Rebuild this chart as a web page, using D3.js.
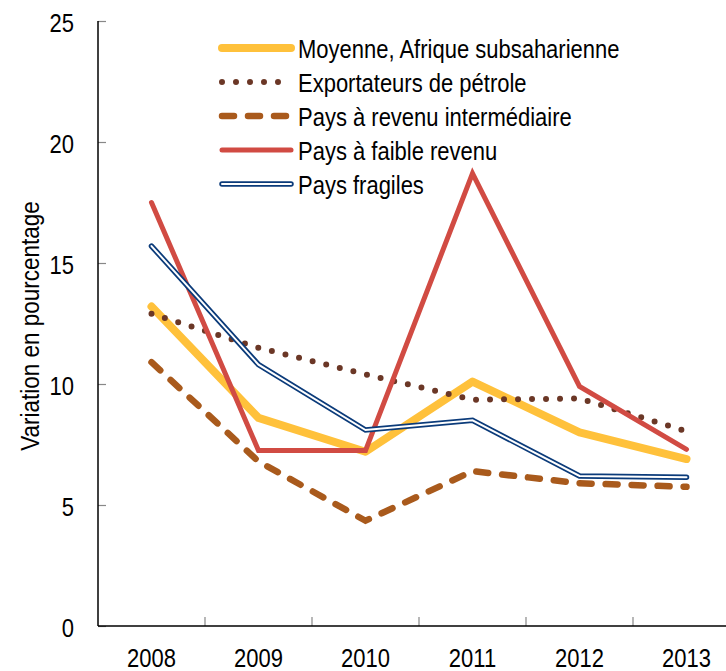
<!DOCTYPE html>
<html>
<head>
<meta charset="utf-8">
<script src="https://cdn.jsdelivr.net/npm/d3@7"></script>
<style>
  body { margin: 0; background: #fff; }
  svg { display: block; font-family: "Liberation Sans", Arial, sans-serif; }
</style>
</head>
<body>
<div id="chart"></div>
<script>
// data
var years = ['2008', '2009', '2010', '2011', '2012', '2013'];
var moyenne = [13.2, 8.6, 7.2, 10.1, 8.0, 6.9];
var exportateurs = [12.9, 11.5, 10.4, 9.35, 9.4, 8.05];
var intermediaire = [10.9, 6.8, 4.35, 6.4, 5.9, 5.75];
var faible = [17.5, 7.25, 7.25, 18.7, 9.9, 7.3];
var fragiles = [15.7, 10.8, 8.1, 8.5, 6.2, 6.15];
var yTicks = [0, 5, 10, 15, 20, 25];

var series = [
    { name: 'Moyenne, Afrique subsaharienne', values: moyenne, type: 'thick' },
    { name: 'Exportateurs de pétrole', values: exportateurs, type: 'dots' },
    { name: 'Pays à revenu intermédiaire', values: intermediaire, type: 'dash' },
    { name: 'Pays à faible revenu', values: faible, type: 'solid' },
    { name: 'Pays fragiles', values: fragiles, type: 'double' }
];

// the original text is a bit taller than wide, so stretch it vertically
var stretch = 1.18;

function init() {
    var width = 726, height = 671;
    // plot box; the right edge runs past the window like in the original
    var pLeft = 98, pTop = 21, pBottom = 626, pRight = 740;

    var svg = d3.select('#chart').append('svg')
        .attr('width', width)
        .attr('height', height);

    var x = d3.scaleBand().domain(years).range([pLeft, pRight]);
    var y = d3.scaleLinear().domain([0, 25]).range([pBottom, pTop]);

    var line = d3.line()
        .x(function(d, i) { return x(years[i]) + x.bandwidth() / 2; })
        .y(function(d) { return y(d); });

    // axes
    var yAxis = svg.append('g')
        .attr('transform', 'translate(' + pLeft + ',0)')
        .call(d3.axisRight(y).tickValues(yTicks).tickSize(8).tickFormat(''));
    yAxis.select('.domain').remove();
    yAxis.selectAll('line').attr('stroke', '#888').attr('stroke-width', 1.2);

    svg.selectAll('.ylab')
        .data(yTicks)
        .enter().append('g')
        .attr('class', 'ylab')
        .attr('transform', function(d) { return 'translate(74,' + (y(d) + 1.5) + ') scale(1,' + stretch + ')'; })
        .append('text')
        .attr('dy', '0.36em')
        .attr('text-anchor', 'end')
        .style('font-size', '22px')
        .text(function(d) { return d; });

    // x tick marks sit on the band edges
    svg.selectAll('.xtick')
        .data(years.slice(1))
        .enter().append('line')
        .attr('x1', function(d) { return x(d); })
        .attr('x2', function(d) { return x(d); })
        .attr('y1', pBottom)
        .attr('y2', pBottom - 9)
        .attr('stroke', '#888')
        .attr('stroke-width', 1.2);

    svg.selectAll('.xlab')
        .data(years)
        .enter().append('g')
        .attr('class', 'xlab')
        .attr('transform', function(d) { return 'translate(' + (x(d) + x.bandwidth() / 2) + ',667) scale(1,' + stretch + ')'; })
        .append('text')
        .attr('text-anchor', 'middle')
        .style('font-size', '22px')
        .text(function(d) { return d; });

    svg.append('line')
        .attr('x1', pLeft).attr('x2', pLeft)
        .attr('y1', pTop).attr('y2', pBottom)
        .attr('stroke', '#000').attr('stroke-width', 1.5);
    svg.append('line')
        .attr('x1', pLeft).attr('x2', pRight)
        .attr('y1', pBottom).attr('y2', pBottom)
        .attr('stroke', '#000').attr('stroke-width', 1.5);

    svg.append('text')
        .attr('transform', 'translate(39,326) rotate(-90) scale(1,1.12)')
        .attr('text-anchor', 'middle')
        .style('font-size', '22.5px')
        .text('Variation en pourcentage');

    var plot = svg.append('g');
    series.forEach(function(s) {
        drawPath(plot, line(s.values), s.type);
    });

    // legend
    var legend = svg.append('g');
    series.forEach(function(s, i) {
        var ly = 48 + i * 34;
        var g = legend.append('g');
        drawPath(g, 'M222,' + ly + 'L291,' + ly, s.type);
        g.append('g')
            .attr('transform', 'translate(298,' + (ly + 0.5) + ') scale(1,' + stretch + ')')
            .append('text')
            .attr('dy', '0.36em')
            .style('font-size', '22px')
            .text(s.name);
    });
}

// styles for each line kind
function drawPath(g, d, type) {
    var p = g.append('path').attr('d', d).attr('fill', 'none');
    if (type === 'thick') {
        p.attr('stroke', '#FFC13B').attr('stroke-width', 8)
            .attr('stroke-linecap', 'round').attr('stroke-linejoin', 'round');
    } else if (type === 'dots') {
        p.attr('stroke', '#6B3726').attr('stroke-width', 6)
            .attr('stroke-dasharray', '0,14')
            .attr('stroke-linecap', 'round');
    } else if (type === 'dash') {
        p.attr('stroke', '#A95A1C').attr('stroke-width', 6.5)
            .attr('stroke-dasharray', '12,14')
            .attr('stroke-linecap', 'round');
    } else if (type === 'solid') {
        p.attr('stroke', '#D14B43').attr('stroke-width', 5)
            .attr('stroke-linecap', 'round');
    } else {
        p.attr('stroke', '#0B3B7A').attr('stroke-width', 5.5)
            .attr('stroke-linecap', 'round');
        g.append('path').attr('d', d).attr('fill', 'none')
            .attr('stroke', '#fff').attr('stroke-width', 2)
            .attr('stroke-linecap', 'round');
    }
}

window.onload = init;
</script>
</body>
</html>
